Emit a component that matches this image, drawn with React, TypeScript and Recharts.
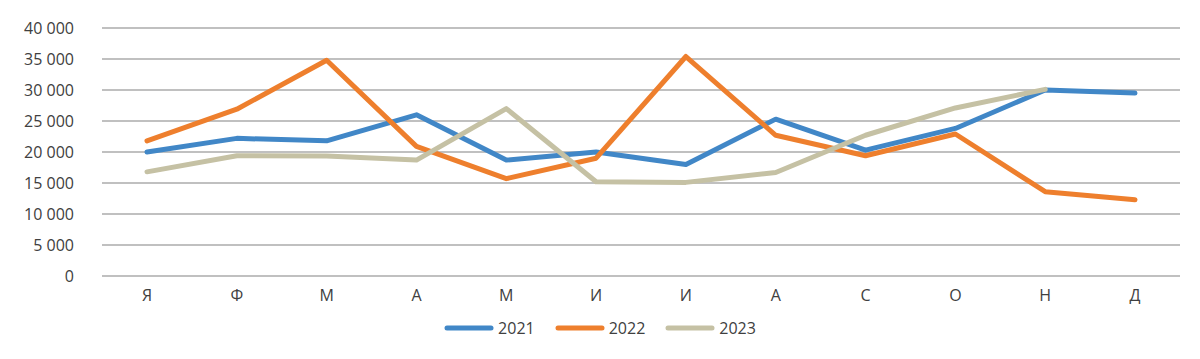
import React from "react";
import { LineChart, Line, XAxis, YAxis, CartesianGrid } from "recharts";

const months = ["Я", "Ф", "М", "А", "М", "И", "И", "А", "С", "О", "Н", "Д"];
const series2021 = [20000, 22200, 21800, 26000, 18700, 20000, 18000, 25300, 20300, 23800, 30000, 29500];
const series2022 = [21800, 26900, 34800, 20900, 15700, 19000, 35400, 22700, 19400, 22900, 13600, 12300];
const series2023: (number | null)[] = [16800, 19400, 19350, 18700, 27000, 15200, 15100, 16700, 22700, 27100, 30100, null];
const yTicks = [0, 5000, 10000, 15000, 20000, 25000, 30000, 35000, 40000];

const seriesInfo = [
  { key: "y2021", name: "2021", color: "#4187C7" },
  { key: "y2022", name: "2022", color: "#EE7F2D" },
  { key: "y2023", name: "2023", color: "#C5C1A4" },
];

const data = months.map((m, i) => ({
  idx: i,
  month: m,
  y2021: series2021[i],
  y2022: series2022[i],
  y2023: series2023[i],
}));

const FONT = "'Open Sans', 'Liberation Sans', sans-serif";
const TEXT = "#404040";

const fmt = (v: number) => String(v).replace(/\B(?=(\d{3})+(?!\d))/g, " ");

const LegendBox = () => (
  <div
    style={{
      position: "absolute",
      left: 0,
      top: 317,
      width: 1200,
      height: 22,
      display: "flex",
      justifyContent: "center",
      alignItems: "center",
      gap: 20,
      fontFamily: FONT,
      fontSize: 16,
      color: TEXT,
    }}
  >
    {seriesInfo.map((s) => (
      <div key={s.key} style={{ display: "flex", alignItems: "center" }}>
        <svg width={50} height={8} style={{ marginRight: 4 }}>
          <line x1={3} y1={4} x2={47} y2={4} stroke={s.color} strokeWidth={5} strokeLinecap="round" />
        </svg>
        <span>{s.name}</span>
      </div>
    ))}
  </div>
);

export default function App() {
  return (
    <div style={{ position: "absolute", left: 0, top: 0, width: 1200, height: 359, background: "#fff" }}>
      <LineChart width={1200} height={359} data={data} margin={{ top: 28, right: 20, bottom: 51, left: 0 }}>
        <CartesianGrid horizontal vertical={false} stroke="#ABABAB" strokeWidth={1.5} />
        <XAxis
          dataKey="idx"
          tickFormatter={(i: number) => months[i]}
          axisLine={false}
          tickLine={false}
          tickMargin={8}
          height={32}
          padding={{ left: 45, right: 45 }}
          tick={{ fill: TEXT, fontSize: 16, fontFamily: FONT }}
          interval={0}
        />
        <YAxis
          domain={[0, 40000]}
          ticks={yTicks}
          tickFormatter={fmt}
          axisLine={false}
          tickLine={false}
          tickMargin={22}
          width={102}
          tick={{ fill: TEXT, fontSize: 16, fontFamily: FONT }}
        />
        {seriesInfo.map((s) => (
          <Line
            key={s.key}
            dataKey={s.key}
            name={s.name}
            type="linear"
            stroke={s.color}
            strokeWidth={5}
            dot={false}
            activeDot={false}
            isAnimationActive={false}
            strokeLinejoin="round"
            strokeLinecap="round"
          />
        ))}
      </LineChart>
      <LegendBox />
    </div>
  );
}
